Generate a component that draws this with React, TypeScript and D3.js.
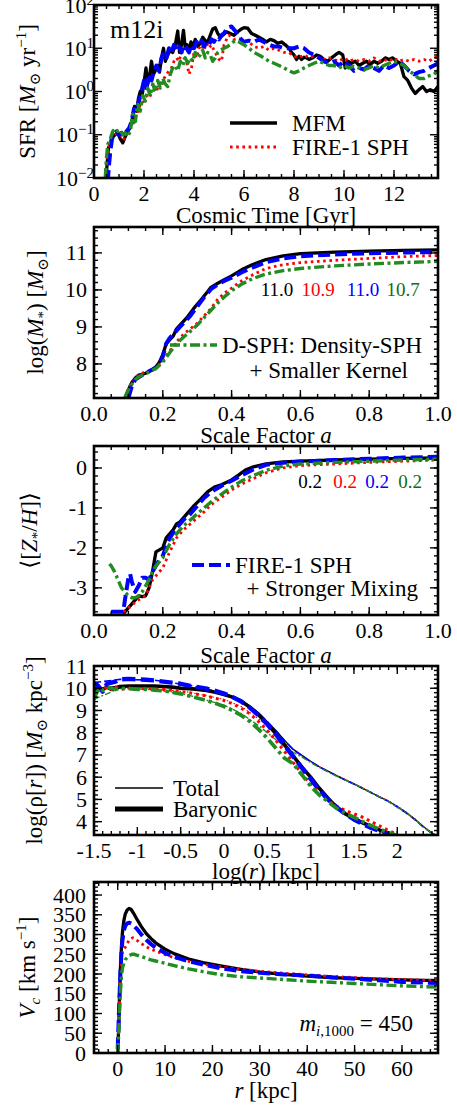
import React from 'react';
import * as d3 from 'd3';

type P = [number, number];
const FONT = "'Liberation Serif','Times New Roman','DejaVu Serif',serif";

// ---------- Panel 1: SFR vs cosmic time ----------
const sfrMFM: P[] = [[0.48,0.008],[0.52,0.02],[0.58,0.05],[0.65,0.06],[0.75,0.09],[0.85,0.1],[0.95,0.11],[1.05,0.08],[1.15,0.065],[1.25,0.09],[1.35,0.12],[1.45,0.15],[1.55,0.25],[1.62,0.45],[1.7,0.35],[1.78,0.7],[1.85,1.0],[1.92,0.8],[2.0,1.6],[2.08,3.5],[2.15,1.5],[2.22,2.2],[2.3,5],[2.38,2.5],[2.45,3],[2.55,4],[2.62,2.8],[2.7,6],[2.78,10],[2.85,5],[2.95,7],[3.05,9],[3.15,8],[3.25,12],[3.35,25],[3.42,8],[3.5,12],[3.58,26],[3.65,10],[3.72,12],[3.8,9],[3.88,14],[3.95,10],[4.05,16],[4.15,11],[4.25,13],[4.35,18],[4.45,15],[4.55,14],[4.65,20],[4.75,28],[4.85,30],[4.95,22],[5.05,18],[5.15,20],[5.3,24],[5.45,22],[5.6,20],[5.75,24],[5.9,28],[6.0,30],[6.15,29],[6.3,22],[6.45,20],[6.6,18],[6.75,16],[6.9,14],[7.05,16],[7.2,15],[7.35,13],[7.5,14],[7.65,12],[7.8,10],[7.9,8],[8.0,7],[8.1,5.5],[8.2,6.5],[8.3,5.5],[8.4,6.2],[8.5,6],[8.6,5.5],[8.75,6],[8.9,7],[9.05,6.5],[9.2,5.5],[9.35,5],[9.5,6],[9.65,7],[9.8,8],[9.95,7],[10.05,3.5],[10.15,5],[10.3,4.5],[10.45,5],[10.6,4],[10.75,4.5],[10.9,5],[11.05,4.2],[11.2,5],[11.35,4.5],[11.5,5],[11.65,6],[11.8,5.5],[11.95,6],[12.1,5],[12.25,4.5],[12.4,2.2],[12.55,1.8],[12.7,1.2],[12.85,0.9],[13.0,1.1],[13.15,1.3],[13.3,1.0],[13.45,1.1],[13.6,1.0],[13.76,1.3]];
const sfrSPH: P[] = [[0.5,0.01],[0.55,0.03],[0.62,0.06],[0.7,0.09],[0.8,0.12],[0.9,0.1],[1.0,0.09],[1.1,0.1],[1.2,0.08],[1.3,0.11],[1.4,0.13],[1.5,0.15],[1.6,0.2],[1.7,0.3],[1.8,0.4],[1.9,0.6],[2.0,0.5],[2.1,0.8],[2.2,0.7],[2.3,0.9],[2.4,1.1],[2.5,1.0],[2.6,1.5],[2.7,1.3],[2.8,2],[2.9,2.5],[3.0,3],[3.1,3.5],[3.2,5],[3.3,6],[3.4,5],[3.5,8],[3.6,6],[3.7,5],[3.8,2.5],[3.9,3.5],[4.0,8],[4.1,6],[4.2,10],[4.3,12],[4.4,9],[4.5,13],[4.6,10],[4.7,12],[4.8,9],[4.9,7],[5.0,5.5],[5.1,5],[5.2,12],[5.3,16],[5.4,20],[5.5,18],[5.6,16],[5.8,17],[6.0,15],[6.2,14],[6.4,11],[6.6,10],[6.8,11],[7.0,9],[7.2,10],[7.4,9],[7.6,8],[7.8,8],[8.0,6.5],[8.2,6],[8.4,7],[8.6,6],[8.8,6.5],[9.0,6],[9.2,5.5],[9.4,6],[9.6,5.5],[9.8,5],[10.0,6],[10.2,5],[10.4,5.5],[10.6,5],[10.8,5.5],[11.0,5],[11.2,6],[11.4,5],[11.6,5.5],[11.8,5],[12.0,6],[12.2,5],[12.4,5.5],[12.6,5],[12.8,5.5],[13.0,5],[13.2,5.5],[13.4,5],[13.6,6],[13.76,6.5]];
const sfrMix: P[] = [[0.55,0.008],[0.6,0.02],[0.65,0.04],[0.72,0.08],[0.8,0.1],[0.9,0.12],[1.0,0.1],[1.1,0.11],[1.2,0.09],[1.3,0.12],[1.4,0.14],[1.5,0.2],[1.6,0.4],[1.7,0.35],[1.8,0.6],[1.9,1.0],[2.0,1.8],[2.1,1.2],[2.2,2.5],[2.3,1.8],[2.4,3],[2.5,4],[2.6,3],[2.7,6],[2.8,8],[2.9,6],[3.0,10],[3.1,8],[3.2,12],[3.3,9],[3.4,11],[3.5,8],[3.6,12],[3.7,10],[3.8,8],[3.9,12],[4.0,10],[4.1,14],[4.2,12],[4.3,15],[4.4,11],[4.5,14],[4.6,12],[4.7,16],[4.8,14],[4.9,18],[5.0,16],[5.1,20],[5.2,22],[5.35,30],[5.5,32],[5.65,25],[5.8,18],[6.0,14],[6.2,15],[6.4,14],[6.6,16],[6.8,14],[7.0,12],[7.2,11],[7.4,11],[7.6,10],[7.8,10],[8.0,10],[8.2,11],[8.4,10],[8.6,8],[8.8,7],[9.0,6],[9.2,5],[9.4,4.5],[9.6,5],[9.8,4],[10.0,5],[10.2,4],[10.4,3],[10.6,3.5],[10.8,3.2],[11.0,4],[11.2,3.5],[11.4,3],[11.6,4],[11.8,3.5],[12.0,4],[12.2,5],[12.4,4],[12.6,3],[12.8,2.5],[13.0,2.8],[13.2,3],[13.4,3.5],[13.6,4],[13.76,4.5]];
const sfrDSPH: P[] = [[0.45,0.01],[0.5,0.03],[0.55,0.06],[0.65,0.08],[0.75,0.12],[0.85,0.14],[0.95,0.12],[1.05,0.13],[1.15,0.1],[1.25,0.11],[1.35,0.09],[1.45,0.12],[1.55,0.3],[1.65,0.2],[1.75,0.5],[1.85,0.35],[1.95,0.8],[2.05,0.6],[2.15,1.2],[2.25,0.8],[2.35,1.5],[2.45,1.0],[2.55,1.8],[2.65,1.2],[2.75,2],[2.85,1.5],[2.95,1.3],[3.05,2.5],[3.15,3.5],[3.25,4],[3.35,3],[3.45,5],[3.55,4],[3.65,6],[3.75,4.5],[3.85,6],[3.95,5],[4.05,8],[4.15,6],[4.25,7],[4.35,9],[4.45,6],[4.55,8],[4.65,7],[4.75,5],[4.85,6],[4.95,8],[5.05,9],[5.2,10],[5.35,11],[5.5,13],[5.65,15],[5.8,14],[6.0,12],[6.2,10],[6.4,8],[6.6,7],[6.8,6],[7.0,5],[7.2,4.5],[7.4,4],[7.6,3.5],[7.8,3],[8.0,2.7],[8.2,3],[8.4,3.5],[8.6,4],[8.8,4.5],[9.0,5],[9.2,4.5],[9.4,4],[9.6,4],[9.8,3.5],[10.0,4],[10.2,3.5],[10.4,3.8],[10.6,3.5],[10.8,3.2],[11.0,3.5],[11.2,4],[11.4,3.5],[11.6,4],[11.8,4.5],[12.0,5],[12.2,4.5],[12.4,4],[12.6,3],[12.8,2.5],[13.0,2],[13.2,2],[13.4,2.3],[13.6,2.5],[13.76,3]];
const sfrTicksX = [0, 2, 4, 6, 8, 10, 12];
const sfrTicksY = [-2, -1, 0, 1, 2];

// ---------- Panel 2: stellar mass vs scale factor ----------
const mstarMFM: P[] = [[0.09,7.08],[0.1,7.3],[0.11,7.5],[0.12,7.62],[0.13,7.7],[0.14,7.72],[0.15,7.75],[0.16,7.8],[0.17,7.85],[0.18,7.92],[0.19,8.05],[0.2,8.25],[0.21,8.55],[0.22,8.65],[0.23,8.75],[0.24,8.95],[0.25,9.05],[0.27,9.25],[0.29,9.5],[0.31,9.72],[0.33,9.95],[0.34,10.07],[0.36,10.18],[0.38,10.28],[0.4,10.38],[0.43,10.55],[0.46,10.68],[0.5,10.82],[0.55,10.92],[0.6,10.98],[0.7,11.02],[0.8,11.05],[0.9,11.07],[1.0,11.08]];
const mstarSPH: P[] = [[0.09,7.08],[0.1,7.35],[0.11,7.5],[0.12,7.6],[0.13,7.72],[0.14,7.75],[0.16,7.8],[0.18,7.9],[0.2,8.1],[0.22,8.35],[0.24,8.6],[0.26,8.8],[0.28,8.95],[0.3,9.1],[0.32,9.3],[0.34,9.5],[0.36,9.75],[0.38,9.92],[0.4,10.05],[0.43,10.25],[0.46,10.4],[0.5,10.58],[0.55,10.68],[0.6,10.74],[0.7,10.8],[0.8,10.85],[0.9,10.9],[1.0,10.93]];
const mstarMix: P[] = [[0.1,7.08],[0.11,7.4],[0.12,7.58],[0.14,7.7],[0.16,7.8],[0.18,7.9],[0.19,8.0],[0.2,8.2],[0.21,8.55],[0.22,8.7],[0.24,8.9],[0.26,9.1],[0.28,9.3],[0.3,9.55],[0.32,9.8],[0.34,10.02],[0.36,10.15],[0.38,10.25],[0.4,10.33],[0.43,10.48],[0.46,10.6],[0.5,10.75],[0.55,10.85],[0.6,10.91],[0.7,10.96],[0.8,10.99],[0.9,11.01],[1.0,11.02]];
const mstarDSPH: P[] = [[0.09,7.1],[0.1,7.3],[0.11,7.45],[0.12,7.58],[0.13,7.65],[0.14,7.7],[0.16,7.78],[0.18,7.88],[0.2,8.05],[0.22,8.3],[0.24,8.55],[0.26,8.72],[0.28,8.88],[0.3,9.05],[0.32,9.25],[0.34,9.45],[0.36,9.65],[0.38,9.82],[0.4,9.98],[0.43,10.16],[0.46,10.3],[0.5,10.43],[0.55,10.52],[0.6,10.58],[0.7,10.65],[0.8,10.7],[0.9,10.74],[1.0,10.77]];
const mstarFinal = ['11.0', '10.9', '11.0', '10.7'];
const aTicks = [0, 0.2, 0.4, 0.6, 0.8, 1.0];
const mstarTicksY = [8, 9, 10, 11];

// ---------- Panel 3: metallicity vs scale factor ----------
const zMFM: P[] = [[0.085,-3.65],[0.1,-3.5],[0.11,-3.4],[0.12,-3.3],[0.13,-3.2],[0.14,-3.22],[0.15,-3.2],[0.16,-3.0],[0.17,-2.6],[0.18,-2.1],[0.19,-2.05],[0.2,-2.0],[0.21,-1.75],[0.22,-1.65],[0.23,-1.55],[0.24,-1.4],[0.25,-1.35],[0.27,-1.15],[0.29,-0.95],[0.31,-0.78],[0.33,-0.6],[0.35,-0.48],[0.37,-0.42],[0.4,-0.3],[0.42,-0.18],[0.44,-0.05],[0.46,0.02],[0.5,0.1],[0.55,0.15],[0.6,0.17],[0.7,0.2],[0.8,0.22],[0.9,0.24],[1.0,0.25]];
const zSPH: P[] = [[0.085,-3.6],[0.1,-3.5],[0.11,-3.45],[0.12,-3.35],[0.13,-3.3],[0.14,-3.25],[0.15,-3.2],[0.16,-3.0],[0.17,-2.8],[0.18,-2.7],[0.19,-2.6],[0.2,-2.5],[0.22,-2.1],[0.24,-1.75],[0.26,-1.55],[0.28,-1.4],[0.3,-1.25],[0.32,-1.1],[0.34,-0.92],[0.36,-0.8],[0.38,-0.68],[0.4,-0.55],[0.43,-0.4],[0.46,-0.28],[0.5,-0.12],[0.55,0.0],[0.6,0.06],[0.7,0.1],[0.8,0.14],[0.9,0.17],[1.0,0.2]];
const zMix: P[] = [[0.05,-3.6],[0.07,-3.6],[0.085,-3.6],[0.09,-3.3],[0.1,-2.75],[0.105,-2.65],[0.11,-2.85],[0.12,-3.1],[0.13,-2.95],[0.14,-2.75],[0.15,-2.75],[0.16,-2.8],[0.17,-2.6],[0.18,-2.45],[0.19,-2.3],[0.2,-2.2],[0.21,-1.95],[0.22,-1.75],[0.24,-1.5],[0.26,-1.3],[0.28,-1.15],[0.3,-0.95],[0.32,-0.75],[0.34,-0.6],[0.37,-0.45],[0.4,-0.32],[0.43,-0.18],[0.46,-0.05],[0.5,0.08],[0.55,0.13],[0.6,0.16],[0.7,0.2],[0.8,0.23],[0.9,0.26],[1.0,0.28]];
const zDSPH: P[] = [[0.045,-2.4],[0.05,-2.45],[0.06,-2.6],[0.07,-2.8],[0.08,-3.0],[0.09,-3.1],[0.1,-3.2],[0.11,-3.25],[0.12,-3.25],[0.13,-3.2],[0.14,-3.1],[0.15,-2.95],[0.16,-2.8],[0.17,-2.6],[0.18,-2.45],[0.19,-2.35],[0.2,-2.25],[0.22,-1.9],[0.24,-1.65],[0.26,-1.45],[0.28,-1.3],[0.3,-1.15],[0.32,-1.0],[0.34,-0.85],[0.36,-0.72],[0.38,-0.6],[0.4,-0.48],[0.43,-0.32],[0.46,-0.2],[0.5,-0.06],[0.55,0.05],[0.6,0.1],[0.7,0.14],[0.8,0.17],[0.9,0.2],[1.0,0.22]];
const zFinal = ['0.2', '0.2', '0.2', '0.2'];
const zTicksY = [0, -1, -2, -3];

// ---------- Panel 4: density profiles ----------
const rhoBarMFM: P[] = [[-1.5,9.9],[-1.45,10.0],[-1.4,9.95],[-1.35,10.05],[-1.3,9.95],[-1.25,10.0],[-1.2,10.08],[-1.1,10.1],[-1.0,10.1],[-0.9,10.1],[-0.8,10.1],[-0.7,10.08],[-0.6,10.05],[-0.5,10.0],[-0.4,9.98],[-0.3,9.95],[-0.2,9.9],[-0.1,9.82],[0,9.72],[0.1,9.6],[0.2,9.42],[0.3,9.15],[0.4,8.8],[0.5,8.4],[0.6,7.95],[0.7,7.45],[0.8,6.95],[0.9,6.45],[1.0,6.0],[1.1,5.5],[1.2,5.05],[1.3,4.65],[1.4,4.35],[1.5,4.15],[1.6,3.95],[1.7,3.78],[1.8,3.62],[1.9,3.48],[1.98,3.4]];
const rhoBarSPH: P[] = [[-1.5,10.0],[-1.45,10.1],[-1.4,9.9],[-1.35,10.1],[-1.3,9.95],[-1.25,10.05],[-1.2,9.95],[-1.1,10.0],[-1.0,9.95],[-0.9,10.0],[-0.8,9.95],[-0.7,9.95],[-0.6,9.9],[-0.5,9.85],[-0.4,9.8],[-0.3,9.72],[-0.2,9.65],[-0.1,9.55],[0,9.45],[0.1,9.3],[0.2,9.1],[0.3,8.85],[0.4,8.5],[0.5,8.1],[0.6,7.65],[0.7,7.15],[0.8,6.65],[0.9,6.15],[1.0,5.7],[1.1,5.3],[1.2,4.95],[1.3,4.7],[1.4,4.5],[1.5,4.35],[1.6,4.2],[1.7,4.0],[1.8,3.8],[1.9,3.6],[2.0,3.42]];
const rhoBarMix: P[] = [[-1.5,10.25],[-1.45,10.1],[-1.4,9.85],[-1.35,10.2],[-1.3,10.25],[-1.25,10.3],[-1.2,10.4],[-1.1,10.42],[-1.0,10.4],[-0.9,10.38],[-0.8,10.35],[-0.7,10.3],[-0.6,10.25],[-0.5,10.2],[-0.4,10.12],[-0.3,10.05],[-0.2,9.98],[-0.1,9.88],[0,9.76],[0.1,9.6],[0.2,9.4],[0.3,9.12],[0.4,8.78],[0.5,8.38],[0.6,7.92],[0.7,7.42],[0.8,6.92],[0.9,6.42],[1.0,5.92],[1.1,5.42],[1.2,5.0],[1.3,4.65],[1.4,4.35],[1.5,4.1],[1.6,3.9],[1.7,3.72],[1.8,3.58],[1.9,3.45],[1.95,3.4]];
const rhoBarDSPH: P[] = [[-1.5,9.5],[-1.47,9.8],[-1.43,10.0],[-1.4,9.9],[-1.35,10.05],[-1.3,10.0],[-1.25,9.95],[-1.2,10.0],[-1.1,9.98],[-1.0,9.95],[-0.9,9.95],[-0.8,9.92],[-0.7,9.88],[-0.6,9.82],[-0.5,9.75],[-0.4,9.65],[-0.3,9.55],[-0.2,9.45],[-0.1,9.32],[0,9.18],[0.1,9.0],[0.2,8.78],[0.3,8.5],[0.4,8.15],[0.5,7.75],[0.6,7.3],[0.7,6.85],[0.8,6.6],[0.9,6.1],[1.0,5.6],[1.1,5.2],[1.2,4.9],[1.3,4.6],[1.4,4.38],[1.5,4.2],[1.6,4.0],[1.7,3.82],[1.8,3.65],[1.9,3.5],[1.98,3.4]];
const rhoTotMFM: P[] = [[-1.5,9.95],[-1.2,10.1],[-0.8,10.12],[-0.4,10.0],[0,9.75],[0.2,9.46],[0.4,8.9],[0.5,8.5],[0.6,8.1],[0.7,7.65],[0.8,7.25],[0.9,6.98],[1.0,6.72],[1.1,6.47],[1.2,6.27],[1.3,6.07],[1.4,5.88],[1.5,5.7],[1.6,5.5],[1.7,5.3],[1.8,5.1],[1.9,4.92],[2.0,4.68],[2.1,4.42],[2.2,4.12],[2.3,3.78],[2.4,3.48],[2.45,3.4]];
const rhoTotSPH: P[] = [[-1.5,10.0],[-1.2,9.98],[-0.8,9.98],[-0.4,9.82],[0,9.5],[0.2,9.18],[0.4,8.62],[0.5,8.3],[0.6,7.95],[0.7,7.58],[0.8,7.22],[0.9,6.95],[1.0,6.7],[1.1,6.47],[1.2,6.27],[1.3,6.08],[1.4,5.9],[1.5,5.72],[1.6,5.52],[1.7,5.32],[1.8,5.12],[1.9,4.93],[2.0,4.7],[2.1,4.44],[2.2,4.14],[2.3,3.8],[2.4,3.5],[2.45,3.4]];
const rhoTotMix: P[] = [[-1.5,10.25],[-1.2,10.4],[-0.8,10.36],[-0.4,10.13],[0,9.78],[0.2,9.44],[0.4,8.88],[0.5,8.5],[0.6,8.08],[0.7,7.64],[0.8,7.24],[0.9,6.96],[1.0,6.7],[1.1,6.46],[1.2,6.26],[1.3,6.06],[1.4,5.87],[1.5,5.69],[1.6,5.5],[1.7,5.3],[1.8,5.1],[1.9,4.9],[2.0,4.66],[2.1,4.4],[2.2,4.1],[2.3,3.77],[2.4,3.47],[2.45,3.38]];
const rhoTotDSPH: P[] = [[-1.5,9.5],[-1.2,10.0],[-0.8,9.94],[-0.4,9.68],[0,9.24],[0.2,8.86],[0.4,8.32],[0.5,8.0],[0.6,7.68],[0.7,7.38],[0.8,7.12],[0.9,6.9],[1.0,6.66],[1.1,6.44],[1.2,6.24],[1.3,6.05],[1.4,5.87],[1.5,5.69],[1.6,5.5],[1.7,5.3],[1.8,5.1],[1.9,4.9],[2.0,4.66],[2.1,4.4],[2.2,4.1],[2.3,3.77],[2.4,3.47],[2.45,3.38]];
const rhoTicksX = [-1.5, -1, -0.5, 0, 0.5, 1, 1.5, 2];
const rhoTicksY = [4, 5, 6, 7, 8, 9, 10, 11];

// ---------- Panel 5: rotation curves ----------
const vcMFM: P[] = [[0,0],[0.2,60],[0.4,150],[0.6,220],[0.8,270],[1.0,305],[1.3,335],[1.6,352],[2.0,362],[2.4,366],[2.8,364],[3.3,355],[4,340],[5,320],[6,303],[7,290],[8,279],[10,263],[12,251],[15,238],[18,229],[22,220],[26,212],[30,205],[35,199],[40,195],[45,191],[50,189],[55,187],[60,185],[65,184],[67.6,184]];
const vcSPH: P[] = [[0,0],[0.2,50],[0.4,120],[0.6,185],[0.8,240],[1.0,258],[1.3,262],[1.8,272],[2.5,288],[3.2,292],[4,286],[5,277],[6,269],[7,263],[8,258],[10,249],[12,241],[15,232],[18,225],[22,218],[26,212],[30,207],[35,202],[40,198],[45,194],[50,191],[55,188],[60,186],[65,184],[67.6,183]];
const vcMix: P[] = [[0,10],[0.2,80],[0.4,150],[0.6,210],[0.8,255],[1.0,285],[1.3,310],[1.6,322],[2.0,328],[2.5,330],[3,327],[4,315],[5,300],[6,287],[7,276],[8,267],[10,253],[12,243],[15,232],[18,224],[22,214],[26,207],[30,203],[35,199],[40,196],[45,192],[50,188],[55,184],[60,180],[65,178],[67.6,177]];
const vcDSPH: P[] = [[0,0],[0.2,50],[0.4,110],[0.6,160],[0.8,195],[1.0,215],[1.3,228],[1.6,236],[2.0,242],[2.5,247],[3,250],[3.5,250],[4,248],[5,244],[6,240],[7,236],[8,233],[10,227],[12,221],[15,213],[18,206],[22,198],[26,193],[30,190],[35,186],[40,182],[45,179],[50,176],[55,173],[60,170],[65,168],[67.6,167]];
const vcTicksX = [0, 10, 20, 30, 40, 50, 60];
const vcTicksY = [0, 50, 100, 150, 200, 250, 300, 350, 400];

// ---------- styles ----------
const STY = [
  { key: 'mfm', stroke: '#000000', w: 3.3, dash: undefined as string | undefined, text: '#000000' },
  { key: 'sph', stroke: '#ff0000', w: 2.8, dash: '2.6,3.6', text: '#ff0000' },
  { key: 'mix', stroke: '#0000ff', w: 4, dash: '12,5', text: '#0000ff' },
  { key: 'dsph', stroke: '#228b22', w: 3.4, dash: '10,3.5,3,3.5', text: '#136b13' },
];

const L = 94, R = 438;
const TOPS = [5, 227, 446, 666, 882];
const BOTS = [178, 398, 615, 835, 1053];
const TICK_FS = 22;
const TITLE_FS = 23;

type Scale = (v: number) => number;

function Axes({ x, y, top, bot, xMajor, xMinor, yMajor, yMinor, xFmt, yFmt, yLabelX = 87 }: {
  x: Scale; y: Scale; top: number; bot: number; xMajor: number[]; xMinor: number[]; yMajor: number[]; yMinor: number[];
  xFmt: (v: number) => React.ReactNode; yFmt: (v: number) => React.ReactNode; yLabelX?: number;
}) {
  const maj = 8, min = 4;
  return (
    <g>
      <g stroke="#000" strokeWidth={1.4}>
        {xMinor.map((v, i) => (
          <g key={'xm' + i}>
            <line x1={x(v)} x2={x(v)} y1={bot} y2={bot - min} />
            <line x1={x(v)} x2={x(v)} y1={top} y2={top + min} />
          </g>
        ))}
        {xMajor.map((v, i) => (
          <g key={'xM' + i}>
            <line x1={x(v)} x2={x(v)} y1={bot} y2={bot - maj} />
            <line x1={x(v)} x2={x(v)} y1={top} y2={top + maj} />
          </g>
        ))}
        {yMinor.map((v, i) => (
          <g key={'ym' + i}>
            <line x1={L} x2={L + min} y1={y(v)} y2={y(v)} />
            <line x1={R} x2={R - min} y1={y(v)} y2={y(v)} />
          </g>
        ))}
        {yMajor.map((v, i) => (
          <g key={'yM' + i}>
            <line x1={L} x2={L + maj} y1={y(v)} y2={y(v)} />
            <line x1={R} x2={R - maj} y1={y(v)} y2={y(v)} />
          </g>
        ))}
      </g>
      <rect x={L} y={top} width={R - L} height={bot - top} fill="none" stroke="#000" strokeWidth={2.6} />
      <g fontSize={TICK_FS} fill="#000">
        {xMajor.map((v, i) => (
          <text key={'xl' + i} x={x(v)} y={bot + 23} textAnchor="middle">{xFmt(v)}</text>
        ))}
        {yMajor.map((v, i) => (
          <text key={'yl' + i} x={yLabelX} y={y(v) + 7.5} textAnchor="end">{yFmt(v)}</text>
        ))}
      </g>
    </g>
  );
}

function Series({ sets, x, y, clip, widthScale = 1 }: { sets: P[][]; x: Scale; y: Scale; clip: string; widthScale?: number }) {
  const line = d3.line<P>().x(d => x(d[0])).y(d => y(d[1]));
  return (
    <g clipPath={`url(#${clip})`}>
      {sets.map((s, i) => (
        <path key={i} d={line(s) || ''} fill="none" stroke={STY[i].stroke} strokeWidth={STY[i].w * widthScale}
          strokeDasharray={STY[i].dash ? STY[i].dash!.split(',').map(n => +n * Math.max(widthScale, 0.6)).join(',') : undefined}
          strokeLinejoin="round" />
      ))}
    </g>
  );
}

const fmtA = (v: number) => v.toFixed(1);
const fmtPlain = (v: number) => String(v);

export default function App() {
  const x1 = d3.scaleLinear().domain([0, 13.76]).range([L, R]);
  const y1 = d3.scaleLog().domain([0.01, 100]).range([BOTS[0], TOPS[0]]);
  const x2 = d3.scaleLinear().domain([0, 1]).range([L, R]);
  const y2 = d3.scaleLinear().domain([7.08, 11.7]).range([BOTS[1], TOPS[1]]);
  const y3 = d3.scaleLinear().domain([-3.68, 0.55]).range([BOTS[2], TOPS[2]]);
  const x4 = d3.scaleLinear().domain([-1.5, 2.47]).range([L, R]);
  const y4 = d3.scaleLinear().domain([3.4, 11]).range([BOTS[3], TOPS[3]]);
  const x5 = d3.scaleLinear().domain([-5, 67.6]).range([L, R]);
  const y5 = d3.scaleLinear().domain([0, 433]).range([BOTS[4], TOPS[4]]);

  const sfrMinorY: number[] = [];
  sfrTicksY.slice(0, -1).forEach(e => d3.range(2, 10).forEach(m => sfrMinorY.push(m * Math.pow(10, e))));

  const mid = (i: number) => (TOPS[i] + BOTS[i]) / 2;
  const cx = (L + R) / 2;

  return (
    <svg width={457} height={1107} style={{ position: 'absolute', left: 0, top: 0, background: '#fff' }}
      fontFamily={FONT}>
      <defs>
        {TOPS.map((t, i) => (
          <clipPath id={'clip' + i} key={i}>
            <rect x={L} y={t} width={R - L} height={BOTS[i] - t} />
          </clipPath>
        ))}
      </defs>
      <rect x={0} y={0} width={457} height={1107} fill="#fff" />

      {/* Panel 1 */}
      <Series sets={[sfrMFM, sfrSPH, sfrMix, sfrDSPH]} x={x1} y={y1} clip="clip0" />
      <Axes x={x1} y={y1} top={TOPS[0]} bot={BOTS[0]}
        xMajor={sfrTicksX} xMinor={d3.range(0, 13.76, 0.5)}
        yMajor={sfrTicksY.map(e => Math.pow(10, e))} yMinor={sfrMinorY}
        xFmt={fmtPlain}
        yFmt={v => { const e = Math.round(Math.log10(v)); return <>10<tspan dy={-8} fontSize={15}>{e < 0 ? '\u2212' + (-e) : e}</tspan></>; }}
        yLabelX={94} />
      <text x={110} y={38} fontSize={26}>m12i</text>
      <line x1={230} x2={277} y1={123} y2={123} stroke="#000" strokeWidth={3.4} />
      <text x={292} y={131} fontSize={TITLE_FS}>MFM</text>
      <line x1={230} x2={277} y1={147} y2={147} stroke="#ff0000" strokeWidth={2.8} strokeDasharray="2.6,3.6" />
      <text x={292} y={155} fontSize={TITLE_FS}>FIRE-1 SPH</text>
      <text transform={`translate(35,${mid(0)}) rotate(-90)`} textAnchor="middle" fontSize={TITLE_FS}>
        SFR [<tspan fontStyle="italic">M</tspan><tspan dy={5} fontSize={15}>⊙</tspan><tspan dy={-5}> yr</tspan><tspan dy={-9} fontSize={15}>−1</tspan><tspan dy={9}>]</tspan>
      </text>
      <text x={cx} y={223} textAnchor="middle" fontSize={TITLE_FS}>Cosmic Time [Gyr]</text>

      {/* Panel 2 */}
      <Series sets={[mstarMFM, mstarSPH, mstarMix, mstarDSPH]} x={x2} y={y2} clip="clip1" />
      <Axes x={x2} y={y2} top={TOPS[1]} bot={BOTS[1]}
        xMajor={aTicks} xMinor={d3.range(0, 1.0001, 0.05)}
        yMajor={mstarTicksY} yMinor={d3.range(7.2, 11.7, 0.2)}
        xFmt={fmtA} yFmt={fmtPlain} />
      {mstarFinal.map((s, i) => (
        <text key={i} x={[277, 318, 363, 403][i]} y={296} textAnchor="middle" fontSize={19} fill={STY[i].text}>{s}</text>
      ))}
      <line x1={170} x2={217} y1={345} y2={345} stroke={STY[3].stroke} strokeWidth={3.4} strokeDasharray={STY[3].dash} />
      <text x={222} y={353} fontSize={TITLE_FS}>D-SPH: Density-SPH</text>
      <text x={408} y={378} fontSize={TITLE_FS} textAnchor="end">+ Smaller Kernel</text>
      <text transform={`translate(43,${mid(1)}) rotate(-90)`} textAnchor="middle" fontSize={TITLE_FS}>
        log(<tspan fontStyle="italic">M</tspan><tspan dy={5} fontSize={15}>*</tspan><tspan dy={-5}>)  [</tspan><tspan fontStyle="italic">M</tspan><tspan dy={5} fontSize={15}>⊙</tspan><tspan dy={-5}>]</tspan>
      </text>
      <text x={cx} y={443} textAnchor="middle" fontSize={TITLE_FS}>Scale Factor <tspan fontStyle="italic">a</tspan></text>

      {/* Panel 3 */}
      <Series sets={[zMFM, zSPH, zMix, zDSPH]} x={x2} y={y3} clip="clip2" />
      <Axes x={x2} y={y3} top={TOPS[2]} bot={BOTS[2]}
        xMajor={aTicks} xMinor={d3.range(0, 1.0001, 0.05)}
        yMajor={zTicksY} yMinor={d3.range(-3.6, 0.55, 0.2)}
        xFmt={fmtA} yFmt={v => (v < 0 ? '-' + (-v) : String(v))} />
      {zFinal.map((s, i) => (
        <text key={i} x={[310, 345, 377, 410][i]} y={488} textAnchor="middle" fontSize={19} fill={STY[i].text}>{s}</text>
      ))}
      <line x1={192} x2={230} y1={565} y2={565} stroke={STY[2].stroke} strokeWidth={4} strokeDasharray={STY[2].dash} />
      <text x={235} y={573} fontSize={TITLE_FS}>FIRE-1 SPH</text>
      <text x={418} y={596} fontSize={TITLE_FS} textAnchor="end">+ Stronger Mixing</text>
      <text transform={`translate(37,${mid(2)}) rotate(-90)`} textAnchor="middle" fontSize={TITLE_FS}>
        ⟨[<tspan fontStyle="italic">Z</tspan><tspan dy={5} fontSize={15}>*</tspan><tspan dy={-5}>/</tspan><tspan fontStyle="italic">H</tspan>]⟩
      </text>
      <text x={cx} y={663} textAnchor="middle" fontSize={TITLE_FS}>Scale Factor <tspan fontStyle="italic">a</tspan></text>

      {/* Panel 4 */}
      <Series sets={[rhoTotMFM, rhoTotSPH, rhoTotMix, rhoTotDSPH]} x={x4} y={y4} clip="clip3" widthScale={0.4} />
      <Series sets={[rhoBarMFM, rhoBarSPH, rhoBarMix, rhoBarDSPH]} x={x4} y={y4} clip="clip3" widthScale={1.1} />
      <Axes x={x4} y={y4} top={TOPS[3]} bot={BOTS[3]}
        xMajor={rhoTicksX} xMinor={d3.range(-1.5, 2.47, 0.1)}
        yMajor={rhoTicksY} yMinor={d3.range(3.4, 11.0001, 0.2)}
        xFmt={fmtPlain} yFmt={fmtPlain} />
      <line x1={115} x2={163} y1={788} y2={788} stroke="#000" strokeWidth={1.3} />
      <text x={173} y={796} fontSize={TITLE_FS}>Total</text>
      <line x1={115} x2={163} y1={809} y2={809} stroke="#000" strokeWidth={5} />
      <text x={173} y={817} fontSize={TITLE_FS}>Baryonic</text>
      <text transform={`translate(42,${mid(3)}) rotate(-90)`} textAnchor="middle" fontSize={TITLE_FS}>
        log(ρ[<tspan fontStyle="italic">r</tspan>])  [<tspan fontStyle="italic">M</tspan><tspan dy={5} fontSize={15}>⊙</tspan><tspan dy={-5}> kpc</tspan><tspan dy={-9} fontSize={15}>−3</tspan><tspan dy={9}>]</tspan>
      </text>
      <text x={cx} y={879} textAnchor="middle" fontSize={TITLE_FS}>log(<tspan fontStyle="italic">r</tspan>)  [kpc]</text>

      {/* Panel 5 */}
      <Series sets={[vcMFM, vcSPH, vcMix, vcDSPH]} x={x5} y={y5} clip="clip4" />
      <Axes x={x5} y={y5} top={TOPS[4]} bot={BOTS[4]}
        xMajor={vcTicksX} xMinor={d3.range(-4, 67.6, 2)}
        yMajor={vcTicksY} yMinor={d3.range(0, 433, 10)}
        xFmt={fmtPlain} yFmt={fmtPlain} yLabelX={86} />
      <text x={413} y={1031} fontSize={TITLE_FS} textAnchor="end">
        <tspan fontStyle="italic">m</tspan><tspan dy={5} fontSize={15}><tspan fontStyle="italic">i</tspan>,1000</tspan><tspan dy={-5}> = 450</tspan>
      </text>
      <text transform={`translate(35,${mid(4)}) rotate(-90)`} textAnchor="middle" fontSize={TITLE_FS}>
        <tspan fontStyle="italic">V</tspan><tspan dy={5} fontSize={15} fontStyle="italic">c</tspan><tspan dy={-5}>  [km s</tspan><tspan dy={-9} fontSize={15}>−1</tspan><tspan dy={9}>]</tspan>
      </text>
      <text x={cx} y={1098} textAnchor="middle" fontSize={TITLE_FS}><tspan fontStyle="italic">r</tspan> [kpc]</text>
    </svg>
  );
}
